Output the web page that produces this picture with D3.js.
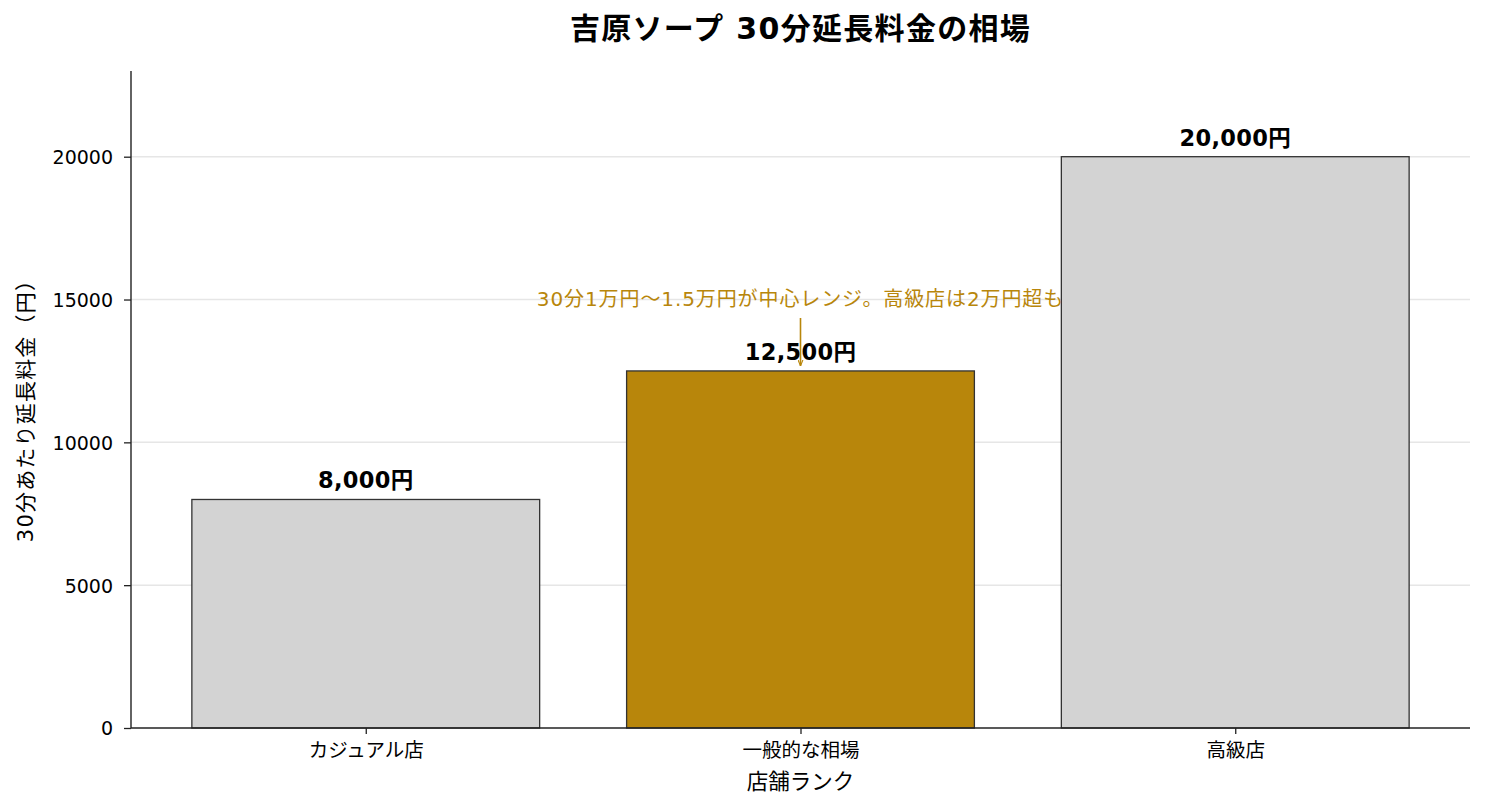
<!DOCTYPE html>
<html>
<head>
<meta charset="utf-8">
<script src="https://cdn.jsdelivr.net/npm/d3@7"></script>
<style>
  body { margin: 0; background: #fff; }
  text { font-family: "DejaVu Sans", "Noto Sans CJK JP", sans-serif; }
</style>
</head>
<body>
<svg id="chart" width="1485" height="810"></svg>
<script>
// data
const categories = ["カジュアル店", "一般的な相場", "高級店"];
const prices = [8000, 12500, 20000];
const barLabels = ["8,000円", "12,500円", "20,000円"];
const yTicks = [0, 5000, 10000, 15000, 20000];
const highlight = "一般的な相場";
const note = "30分1万円〜1.5万円が中心レンジ。高級店は2万円超も";

const svg = d3.select("#chart");
const mLeft = 131, mRight = 1470, mTop = 71, mBottom = 728;
const gold = "#b8860b";

const x = d3.scaleLinear().domain([-0.54, 2.54]).range([mLeft, mRight]);
const y = d3.scaleLinear().domain([0, 23000]).range([mBottom, mTop]);

// grid
svg.append("g")
  .selectAll("line")
  .data(yTicks.filter(d => d > 0))
  .enter()
  .append("line")
  .attr("x1", mLeft).attr("x2", mRight)
  .attr("y1", d => y(d)).attr("y2", d => y(d))
  .style("stroke", "#e6e6e6")
  .style("stroke-width", 1.5);

// bars
svg.append("g")
  .selectAll("rect")
  .data(categories)
  .enter()
  .append("rect")
  .attr("x", (d, i) => x(i - 0.4))
  .attr("width", x(0.4) - x(-0.4))
  .attr("y", (d, i) => y(prices[i]))
  .attr("height", (d, i) => y(0) - y(prices[i]))
  .attr("fill", d => d === highlight ? gold : "#d3d3d3")
  .attr("stroke", "#333")
  .attr("stroke-width", 1.3);

// value labels
svg.append("g")
  .selectAll("text")
  .data(barLabels)
  .enter()
  .append("text")
  .attr("x", (d, i) => x(i))
  .attr("y", (d, i) => y(prices[i]) - 11)
  .attr("text-anchor", "middle")
  .style("font-size", "22.5px")
  .style("font-weight", "bold")
  .style("letter-spacing", "0.3px")
  .text(d => d);

// axes
const xAxis = d3.axisBottom(x)
  .tickValues(categories.map((d, i) => i))
  .tickFormat(i => categories[i])
  .tickSize(6).tickPadding(9);
const gx = svg.append("g").attr("transform", `translate(0,${mBottom})`).call(xAxis);
gx.select(".domain").attr("d", `M${mLeft},0H${mRight}`);

const yAxis = d3.axisLeft(y).tickValues(yTicks).tickFormat(d3.format("d")).tickSize(7).tickPadding(11);
const gy = svg.append("g").attr("transform", `translate(${mLeft},0)`).call(yAxis);
gy.select(".domain").attr("d", `M0,${mTop}V${mBottom}`);

svg.selectAll(".domain").style("stroke", "#222").style("stroke-width", 1.4);
svg.selectAll(".tick line").style("stroke", "#222").style("stroke-width", 1.3);
svg.selectAll(".tick text").style("fill", "#000")
  .style("font-family", "'DejaVu Sans', 'Noto Sans CJK JP', sans-serif");
gy.selectAll(".tick text").style("font-size", "19px").attr("dy", "0.36em");
gx.selectAll(".tick text").style("font-size", "19.5px");

// axis labels
svg.append("text")
  .attr("x", (mLeft + mRight) / 2).attr("y", 789)
  .attr("text-anchor", "middle")
  .style("font-size", "21.5px")
  .text("店舗ランク");

svg.append("text")
  .attr("transform", `translate(33,${(mTop + mBottom) / 2 + 6}) rotate(-90)`)
  .attr("text-anchor", "middle")
  .style("font-size", "21px")
  .style("letter-spacing", "1.2px")
  .text("30分あたり延長料金（円）");

// title
svg.append("text")
  .attr("x", (mLeft + mRight) / 2).attr("y", 39)
  .attr("text-anchor", "middle")
  .style("font-size", "30px")
  .style("font-weight", "bold")
  .style("letter-spacing", "1.3px")
  .text("吉原ソープ 30分延長料金の相場");

// annotation
const hi = categories.indexOf(highlight);
svg.append("defs").append("marker")
  .attr("id", "arr")
  .attr("viewBox", "0 0 10 10")
  .attr("refX", 10).attr("refY", 5)
  .attr("markerWidth", 6).attr("markerHeight", 6)
  .attr("markerUnits", "userSpaceOnUse")
  .attr("orient", "auto")
  .append("path")
  .attr("d", "M0,1L10,5L0,9")
  .attr("fill", "none")
  .attr("stroke", gold)
  .attr("stroke-width", 1.8);

svg.append("line")
  .attr("x1", x(hi)).attr("x2", x(hi))
  .attr("y1", 318).attr("y2", y(prices[hi]) - 5)
  .attr("stroke", gold)
  .attr("stroke-width", 1.6)
  .attr("marker-end", "url(#arr)");

svg.append("text")
  .attr("x", x(hi)).attr("y", 306)
  .attr("text-anchor", "middle")
  .style("font-size", "20px")
  .style("letter-spacing", "0.9px")
  .style("fill", gold)
  .text(note);
</script>
</body>
</html>
